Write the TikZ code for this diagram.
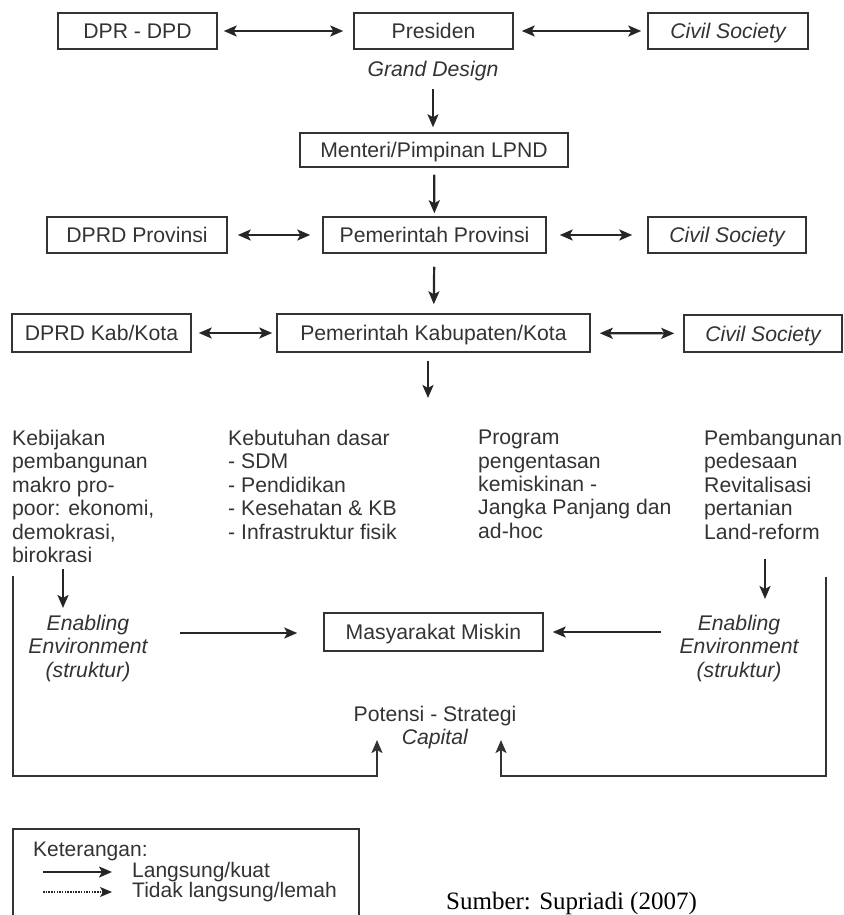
\documentclass[tikz,border=0pt]{standalone}
\usepackage{fontspec}
\setmainfont{Liberation Sans}
\newfontfamily\srcfont{Liberation Serif}
\usetikzlibrary{arrows.meta}
\begin{document}
\begin{tikzpicture}[x=1pt,y=-1pt,
  txt/.style={font=\fontsize{21.2}{23.4}\selectfont, text=black!80, inner sep=0pt},
  itxt/.style={txt, font=\fontsize{21.2}{23.4}\selectfont\itshape},
  box/.style={txt, draw=black!80, line width=1.5pt, minimum height=36pt, text height=15pt, text depth=0pt},
  tip/.style={-{Stealth[length=13pt,width=11pt,inset=3pt]}},
  arr/.style={draw=black!85, line width=2.2pt, tip},
  dbl/.style={draw=black!85, line width=2.2pt, {Stealth[length=13pt,width=11pt,inset=3pt]}-{Stealth[length=13pt,width=11pt,inset=3pt]}},
  frameline/.style={draw=black!80, line width=2.2pt},
  legtxt/.style={font=\fontsize{21}{23}\selectfont, text=black!80, inner sep=0pt},
]
\useasboundingbox (0,0) rectangle (843,915);

% top row
\node[box, minimum width=159pt] (dpr) at (137.5,31) {DPR - DPD};
\node[box, minimum width=159pt] (pres) at (433.5,31) {Presiden};
\node[box, minimum width=160pt] (cs1) at (728,31) {\itshape Civil Society};
\node[itxt] (gd) at (433,71) {Grand Design};
\node[box, minimum width=268pt, minimum height=34pt] (men) at (434,150) {Menteri/Pimpinan LPND};

% province row
\node[box, minimum width=180pt] (dprdp) at (137,235) {DPRD Provinsi};
\node[box, minimum width=223pt] (pprov) at (434.5,235) {Pemerintah Provinsi};
\node[box, minimum width=158pt] (cs2) at (727,235) {\itshape Civil Society};

% kabupaten row
\node[box, minimum width=179pt, minimum height=38pt] (dprdk) at (101.5,333) {DPRD Kab/Kota};
\node[box, minimum width=313pt, minimum height=38pt] (pkab) at (433.5,333) {Pemerintah Kabupaten/Kota};
\node[box, minimum width=158pt, minimum height=37pt] (cs3) at (763,333.5) {\itshape Civil Society};

% columns
\node[txt, anchor=north west, align=left] (c1) at (12,430) {Kebijakan\\pembangunan\\makro pro-\\poor: ekonomi,\\demokrasi,\\birokrasi};
\node[txt, anchor=north west, align=left] (c2) at (228,430) {Kebutuhan dasar\\- SDM\\- Pendidikan\\- Kesehatan \& KB\\- Infrastruktur fisik};
\node[txt, anchor=north west, align=left] (c3) at (478,430) {Program\\pengentasan\\kemiskinan -\\Jangka Panjang dan\\ad-hoc};
\node[txt, anchor=north west, align=left] (c4) at (704,430) {Pembangunan\\pedesaan\\Revitalisasi\\pertanian\\Land-reform};

% enabling environment
\node[itxt, anchor=north, align=center] (enl) at (88,615) {Enabling\\Environment\\(struktur)};
\node[itxt, anchor=north, align=center] (enr) at (739,615) {Enabling\\Environment\\(struktur)};
\node[box, minimum width=219pt, minimum height=38pt] (mm) at (433.5,632) {Masyarakat Miskin};
\node[txt, anchor=north, align=center] (pot) at (435,705.6) {Potensi - Strategi\\\textit{Capital}};

% horizontal double arrows
\draw[dbl, shorten <=6pt, shorten >=10pt] (dpr) -- (pres);
\draw[dbl, shorten <=8pt, shorten >=6pt] (pres) -- (cs1);
\draw[dbl, shorten <=10pt, shorten >=12pt] (dprdp) -- (pprov);
\draw[dbl, shorten <=13pt, shorten >=15pt] (pprov) -- (cs2);
\draw[dbl, shorten <=7pt, shorten >=4pt] (dprdk) -- (pkab);
\draw[dbl, shorten <=9pt, shorten >=9pt] (pkab) -- (cs3);

% vertical arrows
\draw[arr, shorten <=8pt, shorten >=5pt] (gd.south) -- (gd.south |- men.north);
\draw[arr, shorten <=7pt, shorten >=3pt] (men) -- (pprov);
\draw[arr, shorten <=13pt, shorten >=9pt] (pprov) -- (pkab);
\coordinate (kabtip) at (428,398);
\draw[arr, shorten <=8pt] (pkab.south -| kabtip) -- (kabtip);

\coordinate (lstart) at (63,569);
\draw[arr, shorten >=7pt] (lstart) -- (lstart |- enl.north);
\coordinate (rstart) at (765,559);
\draw[arr, shorten >=16pt] (rstart) -- (rstart |- enr.north);

\coordinate (lh) at (180,633);
\draw[arr, shorten >=26pt] (lh) -- (mm.west |- lh);
\coordinate (rh) at (661,632);
\draw[arr, shorten >=9pt] (rh) -- (mm.east |- rh);

% frame
\coordinate (fl) at (13,576);
\coordinate (fr) at (826,577);
\coordinate (fb) at (0,776);
\coordinate (ul) at (377,740);
\coordinate (ur) at (501,740);
\draw[frameline, tip] (fl) -- (fl |- fb) -| (ul);
\draw[frameline, tip] (fr) -- (fr |- fb) -| (ur);

% legend
\coordinate (lg1) at (13,915);
\coordinate (lg2) at (13,829);
\coordinate (lg3) at (359,829);
\coordinate (lg4) at (359,915);
\draw[draw=black!80, line width=1.8pt] (lg1) -- (lg2) -- (lg3) -- (lg4);
\node[legtxt, anchor=west] (ket) at (33,851) {Keterangan:};
\coordinate (la1) at (43,872);
\coordinate (la2) at (112,872);
\coordinate (lb1) at (43,892);
\coordinate (lb2) at (112,892);
\draw[arr, line width=2pt] (la1) -- (la2);
\draw[draw=black!85, line width=1.2pt, dash pattern=on 1.5pt off 1.2pt, -{Stealth[length=12pt,width=10pt,inset=3pt]}] (lb1) -- (lb2);
\node[legtxt, anchor=west] (lang) at (132,872) {Langsung/kuat};
\node[legtxt, anchor=west] (tidak) at (132,892) {Tidak langsung/lemah};

\node[anchor=west, inner sep=0pt, font=\srcfont\fontsize{25}{29}\selectfont, text=black] (src) at (446,903) {Sumber: Supriadi (2007)};
\end{tikzpicture}
\end{document}
